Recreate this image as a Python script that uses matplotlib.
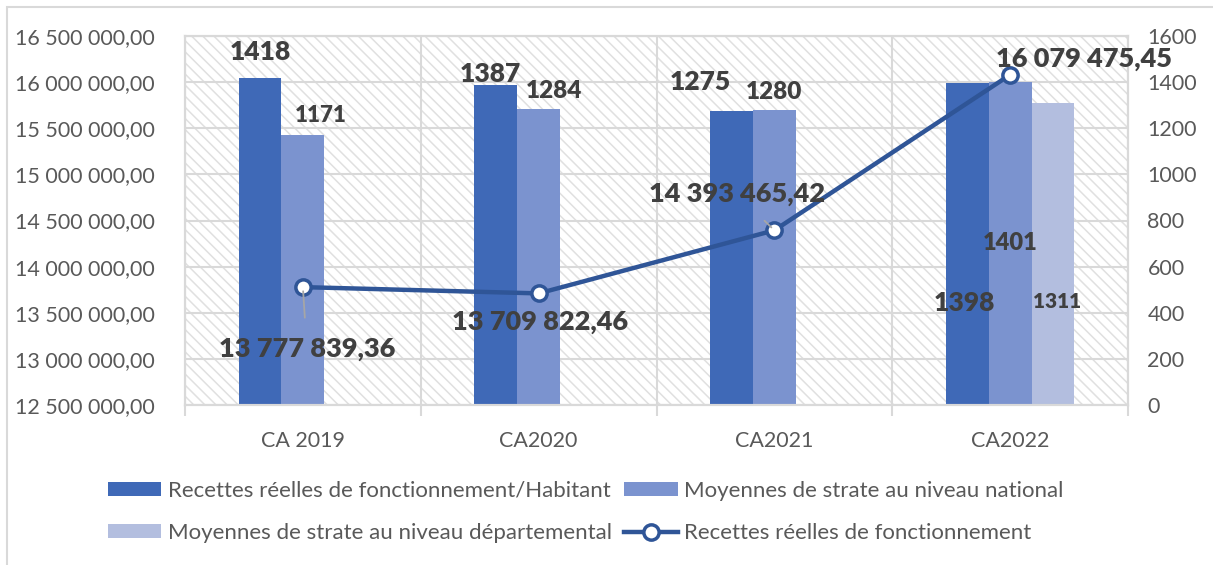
import numpy as np
import matplotlib
matplotlib.use("Agg")
import matplotlib.pyplot as plt
from matplotlib.lines import Line2D
from matplotlib.patches import Patch, Rectangle
from matplotlib.ticker import FuncFormatter, MultipleLocator, FixedLocator

# ---------------- data ----------------
categories = ["CA 2019", "CA2020", "CA2021", "CA2022"]
rrf_habitant = [1418, 1387, 1275, 1398]
strate_national = [1171, 1284, 1280, 1401]
strate_departemental = [np.nan, np.nan, np.nan, 1311]
recettes_reelles = [13777839.36, 13709822.46, 14393465.42, 16079475.45]

series_names = ["Recettes réelles de fonctionnement/Habitant",
                "Moyennes de strate au niveau national",
                "Moyennes de strate au niveau départemental",
                "Recettes réelles de fonctionnement"]

# ---------------- style ----------------
plt.rcParams['font.family'] = ['Lato', 'DejaVu Sans']
plt.rcParams['hatch.color'] = '#E0E0E0'
plt.rcParams['hatch.linewidth'] = 1.1

c1 = '#3F69B7'
c2 = '#7B93CF'
c3 = '#B3BEDF'
cline = '#2F5597'
grid_c = '#D9D9D9'
txt_c = '#595959'
lab_c = '#404040'

W, H = 1213, 565
fig = plt.figure(figsize=(W / 100, H / 100), dpi=100)
fig.patch.set_facecolor('white')

# outer chart frame (left & top visible)
fig.add_artist(Rectangle((7 / W, -0.1), 1.2, 1 - 7 / H + 0.1, transform=fig.transFigure,
                         fill=False, edgecolor='#D9D9D9', linewidth=1.5))

ax = fig.add_axes([185 / W, 1 - 405 / H, (1128 - 185) / W, (405 - 36) / H])
ax2 = ax.twinx()

x = np.arange(len(categories))
bw = 0.182

ax.patch.set_facecolor('white')
ax.patch.set_hatch('\\\\\\')
ax.patch.set_edgecolor('#E0E0E0')

ax.bar(x - bw, rrf_habitant, bw, color=c1, zorder=2)
ax.bar(x, strate_national, bw, color=c2, zorder=2)
ax.bar(x + bw, strate_departemental, bw, color=c3, zorder=2)

ax.set_xlim(-0.5, len(categories) - 0.5)
ax.set_ylim(0, 1600)
ax.yaxis.set_major_locator(MultipleLocator(200))
ax.yaxis.tick_right()
ax.yaxis.set_label_position('right')

ax2.set_ylim(12500000, 16500000)
ax2.yaxis.set_major_locator(MultipleLocator(500000))
ax2.yaxis.tick_left()
ax2.yaxis.set_label_position('left')


def fmt_fr(v, pos=None):
    s = f"{v:,.2f}"
    return s.replace(",", " ").replace(".", ",")


ax2.yaxis.set_major_formatter(FuncFormatter(fmt_fr))

# grid
ax.set_axisbelow(True)
ax.grid(axis='y', color=grid_c, linewidth=1.5, zorder=1)
ax.set_xticks(x)
ax.set_xticklabels(categories)
ax.xaxis.set_minor_locator(FixedLocator(np.arange(-0.5, len(categories), 1.0)))
ax.grid(axis='x', which='minor', color=grid_c, linewidth=1.5, zorder=1)
ax.tick_params(axis='x', which='major', length=0, pad=19, labelsize=15.5, labelcolor=txt_c)
ax.tick_params(axis='x', which='minor', length=8, width=1.5, color=grid_c)
ax.tick_params(axis='y', length=0, pad=14, labelsize=15.5, labelcolor=txt_c)
ax2.tick_params(axis='y', length=0, pad=22, labelsize=15.5, labelcolor=txt_c)

for a in (ax, ax2):
    for sp in a.spines.values():
        sp.set_color(grid_c)
        sp.set_linewidth(1.5)

# line
ax2.plot(x, recettes_reelles, color=cline, linewidth=3.2, marker='o', markersize=11,
         markerfacecolor='white', markeredgecolor=cline, markeredgewidth=2.5, zorder=5)

# bar labels
bar_series = [rrf_habitant, strate_national, strate_departemental]
bar_offsets = [-bw, 0, bw]
bar_label_pos = [
    [(0, 26, 19), (-5, 11, 19), (-31, 29, 19), (-3, -220, 19)],
    [(18, 19, 16), (15, 18, 17.5), (0, 18, 17.5), (0, -161, 17)],
    [None, None, None, (4, -199, 15)],
]
for si, vals in enumerate(bar_series):
    for ci, v in enumerate(vals):
        if np.isnan(v):
            continue
        dx, dy, fs = bar_label_pos[si][ci]
        ax.annotate(f"{int(v)}", xy=(x[ci] + bar_offsets[si], v), xytext=(dx, dy),
                    textcoords='offset pixels', ha='center', va='center',
                    fontsize=fs, fontweight='heavy', color=lab_c, zorder=6)

# line labels
line_label_pos = [(4, -62, True), (1, -29, False), (-37, 36, True), (74, 16, False)]
for ci, v in enumerate(recettes_reelles):
    dx, dy, leader = line_label_pos[ci]
    kw = {}
    if leader:
        kw['arrowprops'] = dict(arrowstyle='-', color='#A6A6A6', lw=1.3,
                                shrinkA=12, shrinkB=3)
    ax2.annotate(fmt_fr(v), xy=(x[ci], v), xytext=(dx, dy), textcoords='offset pixels',
                 ha='center', va='center', fontsize=19.5, fontweight='heavy', color=lab_c,
                 zorder=7, annotation_clip=False, **kw)

# legend (row-major order: reorder for column-first filling)
handles = [Patch(facecolor=c1), Patch(facecolor=c2), Patch(facecolor=c3),
           Line2D([], [], color=cline, linewidth=3.2, marker='o', markersize=11,
                  markerfacecolor='white', markeredgecolor=cline, markeredgewidth=2.5)]
order = [0, 2, 1, 3]
leg = fig.legend([handles[i] for i in order], [series_names[i] for i in order],
                 ncol=2, loc='center left',
                 bbox_to_anchor=(108 / W, 1 - 512 / H), frameon=False,
                 fontsize=16, handlelength=2.4, handleheight=0.6,
                 handletextpad=0.3, columnspacing=0.55, labelspacing=1.0,
                 borderpad=0, borderaxespad=0)
for t in leg.get_texts():
    t.set_color(txt_c)

fig.savefig("out.png", dpi=100, facecolor='white')
